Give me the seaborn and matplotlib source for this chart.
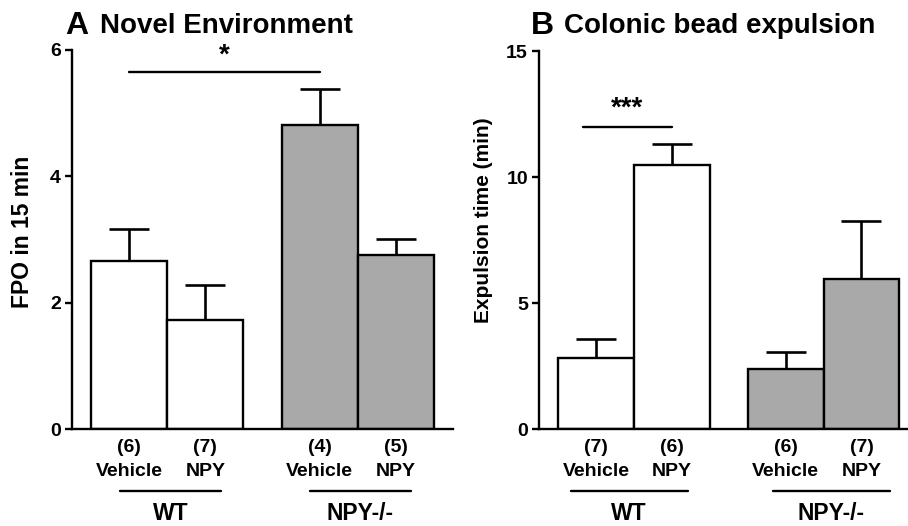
import matplotlib
matplotlib.use('Agg')
import matplotlib.pyplot as plt
import seaborn as sns
import pandas as pd
import numpy as np

# values
genotype = ['WT', 'WT', 'NPY-/-', 'NPY-/-']
treatment = ['Vehicle', 'NPY', 'Vehicle', 'NPY']

fpo_n = ['(6)', '(7)', '(4)', '(5)']
fpo_mean = [2.66, 1.72, 4.81, 2.75]
fpo_sem = [0.50, 0.56, 0.57, 0.26]

bead_n = ['(7)', '(6)', '(6)', '(7)']
bead_mean = [2.82, 10.48, 2.38, 5.95]
bead_sem = [0.75, 0.83, 0.68, 2.30]

sns.set_theme(style='ticks')
plt.rcParams['font.family'] = ['Liberation Sans', 'DejaVu Sans']
plt.rcParams['font.weight'] = 'bold'
plt.rcParams['axes.linewidth'] = 1.7
for k in ['text.color', 'axes.labelcolor', 'axes.edgecolor', 'xtick.color', 'ytick.color']:
    plt.rcParams[k] = 'black'

W, H = 908, 526
fig = plt.figure(figsize=(W / 100, H / 100), dpi=100)


def px_axes(left, bottom, right, top):
    return fig.add_axes([left / W, 1 - bottom / H, (right - left) / W, (bottom - top) / H])


def bar_panel(ax, means, sems, ns, ylim, yticks, xmax):
    # bar centres: two groups of two, half-bar gap between groups
    pos = [0.75 + i + 0.5 * (i // 2) for i in range(len(means))]
    df = pd.DataFrame({'pos': pos, 'val': means, 'geno': genotype})
    sns.barplot(data=df, x='pos', y='val', hue='geno', native_scale=True,
                palette={'WT': 'white', 'NPY-/-': '#a9a9a9'}, dodge=False,
                width=1.0, edgecolor='black', linewidth=1.7, errorbar=None,
                legend=False, ax=ax)
    eb = ax.errorbar(pos, means, yerr=[np.zeros(len(sems)), sems], fmt='none',
                     ecolor='black', elinewidth=1.9, capsize=14.5, capthick=1.9)
    eb.lines[1][0].set_visible(False)  # no lower caps
    ax.set_xlim(0, xmax)
    ax.set_ylim(*ylim)
    ax.set_yticks(yticks)
    ax.tick_params(axis='y', labelsize=14, length=5, width=1.7, pad=3)
    ax.set_xticks([])
    ax.set_xlabel('')
    sns.despine(ax=ax)
    hpx = ax.get_position().height * H
    tr = ax.get_xaxis_transform()
    for p, n, t in zip(pos, ns, treatment):
        ax.text(p, -19 / hpx, n, transform=tr, ha='center', va='center',
                fontsize=14, fontweight='bold')
        ax.text(p, -43 / hpx, t, transform=tr, ha='center', va='center',
                fontsize=14, fontweight='bold')
    return pos, tr, hpx


def group_labels(ax, tr, hpx, spans):
    for (x0, x1), g in zip(spans, ['WT', 'NPY-/-']):
        ax.plot([x0, x1], [-62 / hpx] * 2, transform=tr, color='black',
                lw=1.7, clip_on=False)
        ax.text((x0 + x1) / 2, -84 / hpx, g, transform=tr, ha='center',
                va='center', fontsize=16.5, fontweight='bold')


# Panel A
axA = px_axes(72, 429, 453, 50)
posA, trA, hA = bar_panel(axA, fpo_mean, fpo_sem, fpo_n, (0, 6), [0, 2, 4, 6], 5.0)
group_labels(axA, trA, hA, [(0.63, 1.96), (3.12, 4.45)])
axA.set_ylabel('FPO in 15 min', fontsize=16.5, fontweight='bold', va='center')
axA.yaxis.set_label_coords(-0.129, 0.52)
axA.plot([posA[0], posA[2]], [5.65, 5.65], color='black', lw=1.7)
axA.text((posA[0] + posA[2]) / 2, 5.7, '*', ha='center', va='bottom',
         fontsize=20, fontweight='bold')

# Panel B
axB = px_axes(539, 429, 907, 51)
posB, trB, hB = bar_panel(axB, bead_mean, bead_sem, bead_n, (0, 15), [0, 5, 10, 15], 4.85)
group_labels(axB, trB, hB, [(0.42, 1.96), (3.08, 4.62)])
axB.set_ylabel('Expulsion time (min)', fontsize=15, fontweight='bold', va='center')
axB.yaxis.set_label_coords(-0.152, 0.553)
axB.plot([0.58, posB[1]], [12, 12], color='black', lw=1.7)
axB.text(1.16, 12.2, '***', ha='center', va='bottom', fontsize=20, fontweight='bold')

# panel titles
fig.text(65 / W, 1 - 34 / H, 'A', fontsize=23, fontweight='bold', va='baseline')
fig.text(100 / W, 1 - 33 / H, 'Novel Environment', fontsize=20, fontweight='bold', va='baseline')
fig.text(531 / W, 1 - 34 / H, 'B', fontsize=23, fontweight='bold', va='baseline')
fig.text(564 / W, 1 - 33 / H, 'Colonic bead expulsion', fontsize=20, fontweight='bold', va='baseline')

fig.savefig('out.png', dpi=100, facecolor='white')
